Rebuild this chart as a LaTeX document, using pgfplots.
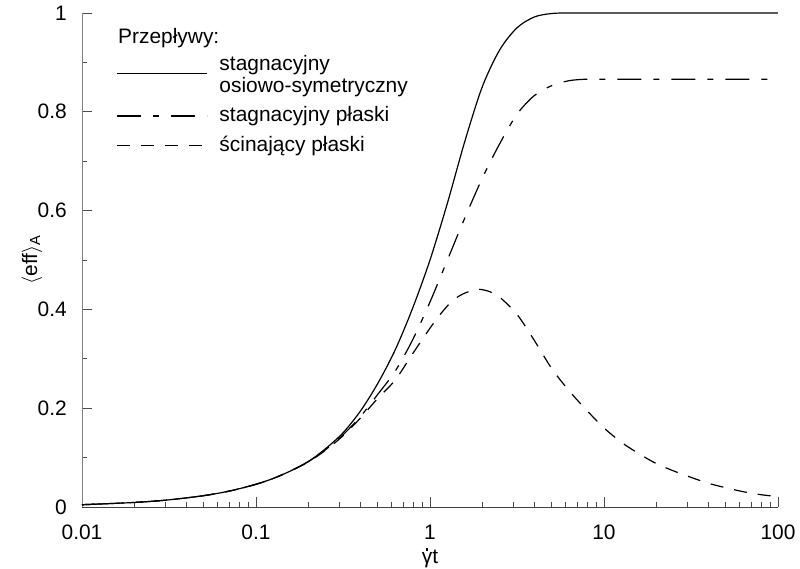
\documentclass[border=0pt]{standalone}
\usepackage{fontspec}
\setmainfont{Liberation Sans}
\usepackage{pgfplots}
\pgfplotsset{compat=1.18}

% efektywnosc <eff>_A w funkcji bezwymiarowego czasu (gamma-kropka t)
\pgfplotstableread{
x      y
0.01   0.0046
0.02   0.0092
0.0316 0.0145
0.0501 0.023
0.0708 0.0325
0.1    0.046
0.126  0.058
0.158  0.073
0.2    0.092
0.251  0.118
0.316  0.150
0.398  0.194
0.501  0.250
0.631  0.318
0.794  0.402
1.0    0.500
1.259  0.615
1.585  0.740
1.995  0.850
2.512  0.925
3.162  0.970
3.981  0.992
5.012  0.999
6.31   1.000
10     1.000
31.6   1.000
100    1.000
}\osiowy

\pgfplotstableread{
x      y
0.01   0.0046
0.02   0.0092
0.0316 0.0145
0.0501 0.023
0.0708 0.0325
0.1    0.046
0.126  0.058
0.158  0.073
0.2    0.092
0.251  0.116
0.316  0.146
0.398  0.183
0.501  0.228
0.631  0.275
0.794  0.338
1.0    0.415
1.259  0.500
1.585  0.585
1.995  0.665
2.512  0.735
3.162  0.795
3.981  0.833
5.012  0.853
6.31   0.863
7.943  0.866
10     0.866
31.6   0.866
100    0.866
}\plaskiStag

\pgfplotstableread{
x      y
0.01   0.0046
0.02   0.0092
0.0316 0.0145
0.0501 0.023
0.0708 0.0325
0.1    0.046
0.126  0.058
0.158  0.073
0.2    0.091
0.251  0.115
0.316  0.144
0.398  0.180
0.501  0.220
0.631  0.257
0.794  0.310
1.0    0.362
1.122  0.386
1.259  0.407
1.413  0.423
1.585  0.433
1.84   0.440
1.995  0.440
2.239  0.435
2.512  0.425
3.162  0.390
3.981  0.337
5.012  0.280
6.31   0.235
7.943  0.196
10     0.160
12.59  0.131
15.85  0.108
19.95  0.088
25.12  0.073
31.62  0.060
39.81  0.048
50.12  0.039
63.1   0.031
79.43  0.025
100    0.021
}\scinajacy

\begin{document}
\fontsize{21}{22}\selectfont
\begin{tikzpicture}
\useasboundingbox (-82bp,-62bp) rectangle (718bp,507bp);
\begin{axis}[
  at={(0,0)}, anchor=south west,
  scale only axis, width=696bp, height=494bp,
  xmode=log, xmin=0.01, xmax=100, ymin=0, ymax=1,
  clip=false,
  axis x line=bottom, axis y line=left,
  x axis line style={-, black!75, line width=0.9bp},
  y axis line style={-, black!50, line width=0.9bp},
  tick align=inside,
  major tick length=10bp, minor tick length=5bp,
  every tick/.style={black!70, line width=0.8bp},
  xtick={0.01,0.1,1,10,100},
  xticklabels={0.01,0.1,1,10,100},
  minor xtick={0.02,0.03,0.04,0.05,0.06,0.07,0.08,0.09,
               0.2,0.3,0.4,0.5,0.6,0.7,0.8,0.9,
               2,3,4,5,6,7,8,9,20,30,40,50,60,70,80,90},
  ytick={0,0.2,0.4,0.6,0.8,1},
  yticklabels={0,0.2,0.4,0.6,0.8,1},
  minor ytick={0.1,0.3,0.5,0.7,0.9},
  xticklabel style={inner sep=0pt, yshift=-18bp},
  yticklabel style={xshift=-8bp},
  xlabel={\ooalign{γ\cr\hidewidth\raisebox{12bp}{\rule{2.6bp}{2.6bp}}\hidewidth\cr}t},
  ylabel={$\langle$eff$\rangle$\textsubscript{A}},
  xlabel style={at={(axis description cs:0.5,-0.1)}, anchor=center, inner sep=0pt},
  ylabel style={at={(axis description cs:-0.072,0.5)}, anchor=center},
  legend cell align=left,
  legend image code/.code={\draw[#1] (0bp,0bp) -- (90bp,0bp);},
  legend style={at={(axis description cs:0.049,0.926)}, anchor=north west,
    draw=none, fill=none, inner sep=0pt, row sep=7bp, column sep=10bp,
    nodes={inner sep=2bp, align=left}},
]
\addplot[black, line width=1.2bp, smooth] table[x=x, y=y] {\osiowy};
\addlegendentry{\rule{0pt}{19bp}stagnacyjny\\osiowo-symetryczny\rule[-13bp]{0pt}{0pt}}
\addplot[black, line width=1.2bp, smooth,
  dash pattern=on 24bp off 12bp on 6bp off 12bp] table[x=x, y=y] {\plaskiStag};
\addlegendentry{stagnacyjny płaski}
\addplot[black, line width=1.2bp, smooth,
  dash pattern=on 13bp off 11bp] table[x=x, y=y] {\scinajacy};
\addlegendentry{ścinający płaski}
\node[anchor=west, inner sep=0pt] at (axis description cs:0.0517,0.949) {Przepływy:};
\end{axis}
\end{tikzpicture}
\end{document}
